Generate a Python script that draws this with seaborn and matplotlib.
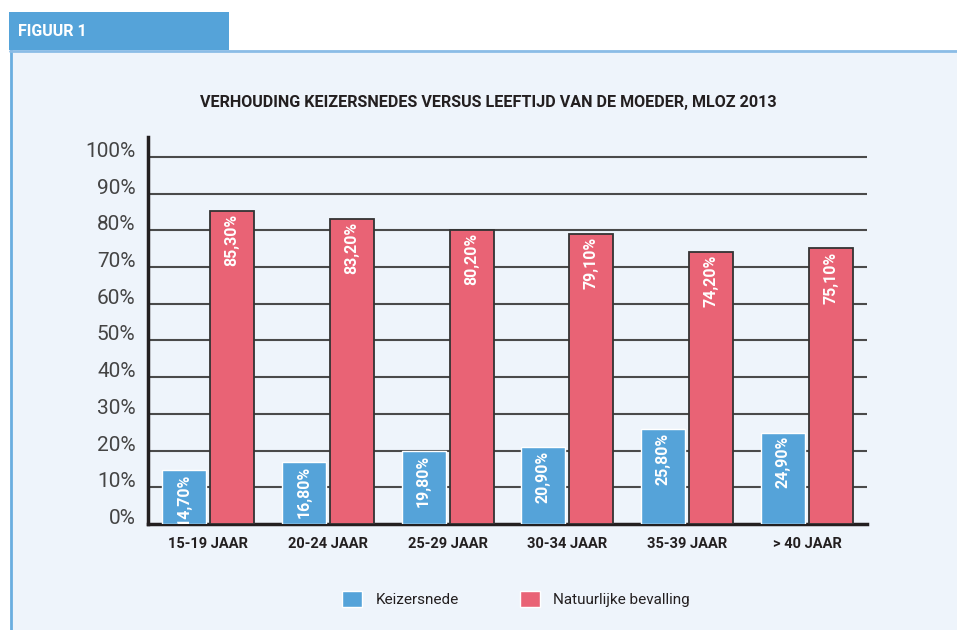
import matplotlib
matplotlib.use('Agg')
import matplotlib.pyplot as plt
from matplotlib.patches import Rectangle
from matplotlib.ticker import FixedLocator
import pandas as pd
import seaborn as sns

# Gegevens uit de figuur
leeftijden = ['15-19 JAAR', '20-24 JAAR', '25-29 JAAR', '30-34 JAAR',
              '35-39 JAAR', '> 40 JAAR']
keizersnede = [14.7, 16.8, 19.8, 20.9, 25.8, 24.9]
natuurlijk = [85.3, 83.2, 80.2, 79.1, 74.2, 75.1]
reeksen = ['Keizersnede', 'Natuurlijke bevalling']
y_ticks = [0, 10, 20, 30, 40, 50, 60, 70, 80, 90, 100]

blauw = '#55a3d9'
rood = '#e96375'
achtergrond = '#eef4fb'

# Long-form dataframe voor seaborn
df = pd.DataFrame({
    'leeftijd': leeftijden * 2,
    'type': [reeksen[0]] * len(leeftijden) + [reeksen[1]] * len(leeftijden),
    'waarde': keizersnede + natuurlijk,
})

sns.set_style('white')
plt.rcParams['font.family'] = ['Roboto', 'DejaVu Sans']

fig = plt.figure(figsize=(9.57, 6.3), dpi=100, facecolor='white')
W, H = 957, 630

# Paneel en kop "FIGUUR 1"
fig.patches.append(Rectangle((10 / W, 0), 1 - 10 / W, 1 - 50 / H,
                             transform=fig.transFigure, facecolor=achtergrond,
                             edgecolor='none', zorder=-2))
fig.add_artist(plt.Line2D([10.5 / W, 10.5 / W], [0, 1 - 50 / H],
                          transform=fig.transFigure, color='#6aaee0', lw=2,
                          zorder=-1))
fig.add_artist(plt.Line2D([10 / W, 1], [1 - 50.5 / H, 1 - 50.5 / H],
                          transform=fig.transFigure, color='#8bbce6', lw=2,
                          zorder=-1))
fig.patches.append(Rectangle((9 / W, 1 - 50 / H), 220 / W, 38 / H,
                             transform=fig.transFigure, facecolor=blauw,
                             edgecolor='none', zorder=-1))
fig.text(18 / W, 1 - 32 / H, 'FIGUUR 1', color='white', fontsize=11.5,
         fontweight='bold', va='center', ha='left')

fig.text(488 / W, 1 - 102 / H,
         'VERHOUDING KEIZERSNEDES VERSUS LEEFTIJD VAN DE MOEDER, MLOZ 2013',
         ha='center', va='center', fontsize=11.6, fontweight='bold',
         color='#231f20')

ax = fig.add_axes([148 / W, (630 - 524) / H, 719 / W, (524 - 137) / H])
ax.set_facecolor('none')
ax.set_zorder(2)

sns.barplot(data=df, x='leeftijd', y='waarde', hue='type', order=leeftijden,
            hue_order=reeksen, palette=[blauw, rood], width=0.8, gap=0.08,
            saturation=1, legend=False, ax=ax, zorder=3)

# Rode balken met donkere rand
for p in ax.containers[1]:
    p.set_edgecolor('#333333')
    p.set_linewidth(1.3)

# Waarden in de balken
for cont, waarden in zip(ax.containers, [keizersnede, natuurlijk]):
    for p, v in zip(cont, waarden):
        x = p.get_x() + p.get_width() / 2
        ax.text(x, v - 0.9, f'{v:.2f}'.replace('.', ',') + '%', rotation=90,
                ha='center', va='top', color='white', fontsize=11.5,
                fontweight='bold', clip_on=True, zorder=5)

ax.set_xlim(-0.5, len(leeftijden) - 0.5)
ax.set_ylim(0, 105.4)
ax.set_yticks(y_ticks)
ax.set_yticklabels([f'{t}%' for t in y_ticks])
for lbl in ax.get_yticklabels():
    lbl.set_verticalalignment('baseline')
for t in y_ticks[1:]:
    ax.axhline(t, color='#4a4a4a', lw=1.5, zorder=1)

ax.set_xlabel('')
ax.set_ylabel('')
ax.tick_params(axis='y', length=0, pad=9, labelsize=15, labelcolor='#444444')
ax.tick_params(axis='x', which='major', length=0, pad=9, labelsize=10.5,
               labelcolor='#231f20')
for lbl in ax.get_xticklabels():
    lbl.set_fontweight('bold')
ax.xaxis.set_minor_locator(FixedLocator([i + 0.5 for i in range(len(leeftijden) - 1)]))
ax.tick_params(axis='x', which='minor', direction='in', length=6, width=2,
               color='#231f20')

for s in ['top', 'right']:
    ax.spines[s].set_visible(False)
for s in ['left', 'bottom']:
    ax.spines[s].set_color('#231f20')
    ax.spines[s].set_linewidth(2.5)

# Legenda
handles = [Rectangle((0, 0), 1, 1, facecolor=blauw),
           Rectangle((0, 0), 1, 1, facecolor=rood)]
fig.legend(handles, reeksen, loc='center', bbox_to_anchor=(516 / W, 1 - 599 / H),
           ncol=2, frameon=False, fontsize=11, handlelength=1.3,
           handleheight=1.3, handletextpad=0.9, columnspacing=4.0,
           labelcolor='#231f20')

fig.savefig('out.png', dpi=100, facecolor=fig.get_facecolor())
